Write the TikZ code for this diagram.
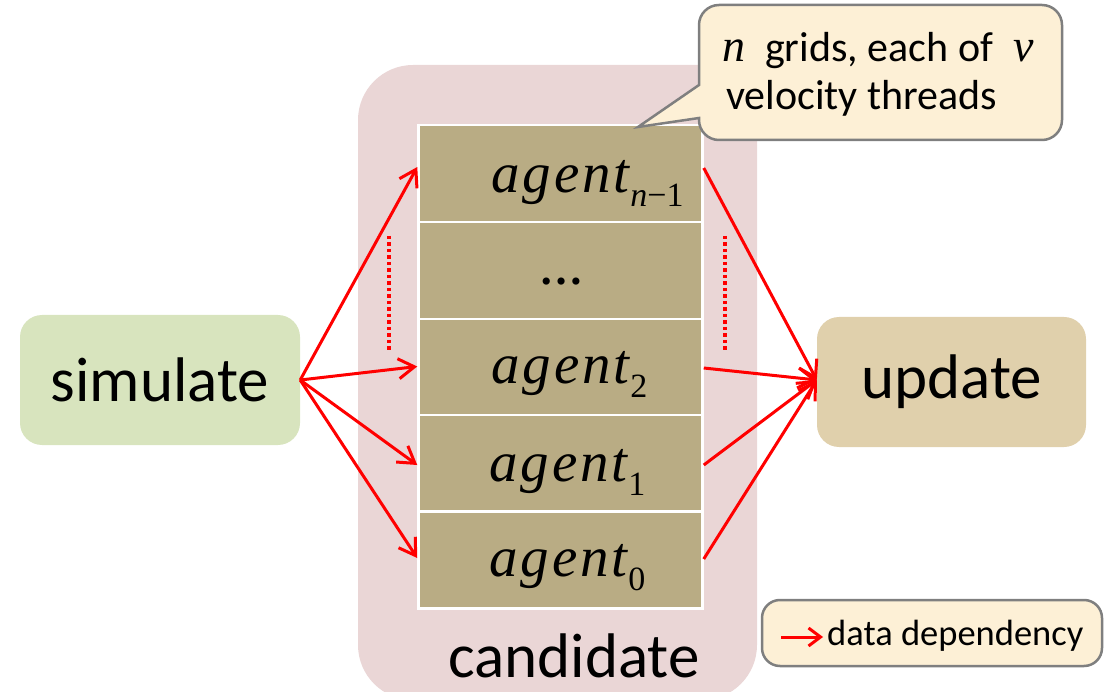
\documentclass[tikz,border=0pt]{standalone}
\usepackage{fontspec}
\setmainfont{Carlito}
\newfontfamily\tms{Liberation Serif}
\usetikzlibrary{arrows.meta}
\definecolor{pinkbg}{HTML}{EAD6D6}
\definecolor{agentc}{HTML}{B9AC84}
\definecolor{simc}{HTML}{D8E4BE}
\definecolor{updc}{HTML}{E0D0AC}
\definecolor{creamc}{HTML}{FDF0D6}
\definecolor{bordc}{HTML}{7F7F7F}
\newcommand{\agt}[1]{{\tms\itshape a\kern3pt g\kern3pt e\kern3pt n\kern2.5pt t}\kern1pt\raisebox{-14pt}{\fontsize{34}{34}\selectfont\tms #1}}
\tikzset{
  agentbox/.style={rectangle, fill=agentc, draw=white, line width=2.5pt, minimum width=284pt, minimum height=97pt, inner sep=0pt},
  agentlbl/.style={anchor=base west, inner sep=0pt, font=\fontsize{57}{57}\selectfont},
  procbox/.style={rectangle, rounded corners=22pt, minimum height=130pt, inner sep=0pt, font=\fontsize{63}{63}\selectfont},
  dep/.style={red, line width=3pt, -{Straight Barb[length=16pt,width=20pt,line width=3pt]}},
  dots/.style={red, line width=4pt, dash pattern=on 3.5pt off 3pt},
  noteshape/.style={fill=creamc, draw=bordc, line width=2.5pt},
}
\begin{document}
\begin{tikzpicture}[x=1pt,y=-1pt]
\useasboundingbox (0,0) rectangle (1116,692);
\clip (0,0) rectangle (1116,692);
% candidate background
\fill[pinkbg, rounded corners=55pt] (358,65) rectangle (757,700);
\node[font=\fontsize{63}{63}\selectfont, inner sep=0pt] (cand) at (574,656) {candidate};
% agents
\node[agentbox] (a4) at (560.5,173.5) {};
\node[agentbox] (a3) at (560.5,270.5) {};
\node[agentbox] (a2) at (560.5,367.5) {};
\node[agentbox] (a1) at (560.5,463.5) {};
\node[agentbox] (a0) at (560.5,560) {};
\node[agentlbl] (l4) at (491,193) {\agt{\itshape n\upshape−1}};
\node[font=\fontsize{44}{44}\selectfont\tms\bfseries, inner sep=0pt, anchor=base] (l3) at (561,285) {…};
\node[agentlbl] (l2) at (491,383) {\agt{2}};
\node[agentlbl] (l1) at (489,481) {\agt{1}};
\node[agentlbl] (l0) at (489,576) {\agt{0}};
% process boxes
\node[procbox, fill=simc, minimum width=280pt] (sim) at (160,380) {simulate};
\node[procbox, fill=updc, minimum width=269pt] (upd) at (951.5,382) {update};
% arrows
\draw[dep] (sim.east) -- ([yshift=6.5pt]a4.west);
\draw[dep] (sim.east) -- ([yshift=1pt]a2.west);
\draw[dep] (sim.east) -- ([yshift=-1.5pt]a1.west);
\draw[dep] (sim.east) -- ([yshift=2pt]a0.west);
\draw[dep] ([yshift=5.5pt]a4.east) -- ([yshift=2pt]upd.west);
\draw[dep] ([yshift=-0.5pt]a2.east) -- ([yshift=2pt]upd.west);
\draw[dep] ([yshift=-1.5pt]a1.east) -- ([yshift=2pt]upd.west);
\draw[dep] ([yshift=1pt]a0.east) -- ([yshift=2pt]upd.west);
% dotted
\coordinate (dl1) at (389,236);
\coordinate (dl2) at (389,350);
\coordinate (dr1) at (725,236);
\coordinate (dr2) at (725,350);
\draw[dots] (dl1) -- (dl2);
\draw[dots] (dr1) -- (dr2);
% callout
\coordinate (tip) at (638,127);
\draw[noteshape] (tip) -- (699,118) [rounded corners=20pt] -- (699,140) -- (1062,140) -- (1062,5) -- (699,5) [sharp corners] -- (699,85) -- cycle;
\node[anchor=base west, inner sep=0pt, font=\fontsize{42}{48}\selectfont] (note1) at (722,62) {{\tms\itshape\fontsize{46}{48}\selectfont n}\hspace{20pt}grids, each of\hspace{20pt}{\tms\itshape\fontsize{46}{48}\selectfont v}};
\node[anchor=base west, inner sep=0pt, font=\fontsize{42}{48}\selectfont] (note2) at (726,110) {velocity threads};
% legend
\draw[noteshape, rounded corners=18pt] (762,600) rectangle (1102,666);
\coordinate (lg1) at (781,637);
\coordinate (lg2) at (823,637);
\draw[red, line width=3pt, -{Straight Barb[length=12pt,width=18pt,line width=3pt]}] (lg1) -- (lg2);
\node[anchor=west, inner sep=0pt, font=\fontsize{36.5}{40}\selectfont] (lgt) at (827,636) {data dependency};
\end{tikzpicture}
\end{document}
